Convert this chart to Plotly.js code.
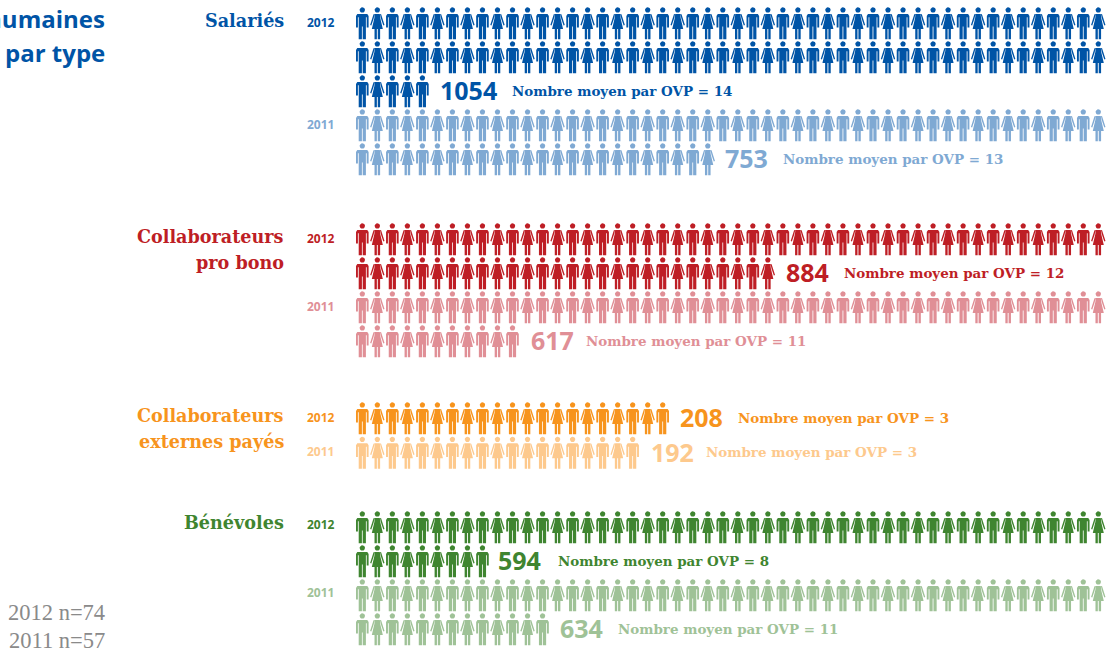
<!DOCTYPE html>
<html lang="fr">
<head>
<meta charset="utf-8">
<title>Ressources humaines par type</title>
<script src="https://cdn.plot.ly/plotly-3.0.1.min.js"></script>
<style>html,body{margin:0;padding:0;background:#fff;overflow:hidden}</style>
</head>
<body>
<div id="chart" style="width:1117px;height:655px"></div>
<script>
// One entry per series, newest year first inside each staff type.
const years = ['2012','2011','2012','2011','2012','2011','2012','2011'];
const totals = [1054, 753, 884, 617, 208, 192, 594, 634];
const averages = [14, 13, 12, 11, 3, 3, 8, 11];
// Icons drawn per series. One icon stands for about 10 people; the 753 and 884 series run short of that.
const iconCounts = [105, 74, 78, 61, 21, 19, 59, 63];
const colors = ['#0054a6','#7fa9d3','#be1e25','#e08f96','#f7941d','#fdc98d','#3f8530','#9fc297'];

const groupLabels = [
  {lines:['Salariés'], ys:[20], color:'#0054a6'},
  {lines:['Collaborateurs','pro bono'], ys:[236,262], color:'#be1e25'},
  {lines:['Collaborateurs','externes payés'], ys:[415,441], color:'#f7941d'},
  {lines:['Bénévoles'], ys:[522], color:'#3f8530'}
];
const sampleSizes = ['2012 n=74','2011 n=57'];

// Page layout, in axis units (the axes span the page one unit per pixel).
const seriesTop = [7.3, 109.3, 223.3, 291.3, 402.3, 436.7, 511.3, 579.3];
const yearY = [22, 124, 238, 306, 417, 451, 524, 592];
const totalX = [439, 724, 785, 530, 679, 650, 497, 559];
const noteX = [512, 783, 844, 586, 738, 706, 558, 618];
const perRow = 50, colStep = 15.02, rowStep = 34, firstX = 362.3;

// Icon outlines, relative to the icon's top centre.
function head() {
  const pts = [];
  for (let a = 0; a <= 16; a++) {
    const t = a / 16 * 2 * Math.PI;
    pts.push([2.7 * Math.cos(t), 2.7 + 2.7 * Math.sin(t)]);
  }
  return pts;
}
const manParts = [
  head(),
  [[-6.3,8.6],[-5.0,6.6],[5.0,6.6],[6.3,8.6],[6.3,20.2],[4.4,20.2],[4.4,10],[3.6,10],[3.6,19.2],
   [-3.6,19.2],[-3.6,10],[-4.4,10],[-4.4,20.2],[-6.3,20.2]],
  [[-3.6,19],[-0.4,19],[-0.4,32],[-3.6,32]],
  [[0.4,19],[3.6,19],[3.6,32],[0.4,32]]
];
const womanParts = [
  head(),
  [[-2.5,6.6],[2.5,6.6],[3.0,11],[5.5,21.6],[-5.5,21.6],[-3.0,11]],
  [[-2.6,6.6],[-3.8,7],[-7.2,17.8],[-6.0,18.3],[-3.7,11.4]],
  [[2.6,6.6],[3.8,7],[7.2,17.8],[6.0,18.3],[3.7,11.4]],
  [[-2.8,21.4],[-0.45,21.4],[-0.45,32],[-2.8,32]],
  [[0.45,21.4],[2.8,21.4],[2.8,32],[0.45,32]]
];

const traces = totals.map((total, s) => {
  const x = [], y = [];
  for (let i = 0; i < iconCounts[s]; i++) {
    const cx = firstX + (i % perRow) * colStep;
    const top = seriesTop[s] + Math.floor(i / perRow) * rowStep;
    for (const part of (i % 2 ? womanParts : manParts)) {
      for (const p of part) { x.push(cx + p[0]); y.push(top + p[1]); }
      x.push(null); y.push(null);
    }
  }
  return {
    type: 'scatter', mode: 'lines', x, y, name: years[s] + ' : ' + total,
    fill: 'toself', fillcolor: colors[s], line: {width: 0, color: colors[s]},
    hoverinfo: 'skip', showlegend: false
  };
});

const sans = '"Open Sans", sans-serif', serif = '"DejaVu Serif", serif', lightSerif = '"Liberation Serif", serif';
const note = (text, x, y, anchor, family, size, color, weight) => ({
  text, x, y, xref: 'x', yref: 'y', xanchor: anchor, yanchor: 'middle', showarrow: false,
  borderpad: 0, font: {family, size, color, weight: weight === undefined ? 700 : weight}
});

const annotations = [
  note('Ressources humaines', 106, 18.5, 'right', sans, 24, '#0054a6'),
  note('par type', 106, 52.5, 'right', sans, 24, '#0054a6')
];
groupLabels.forEach(g => g.lines.forEach((line, i) =>
  annotations.push(note(line, 285, g.ys[i], 'right', serif, 17.6, g.color))));
totals.forEach((total, s) => {
  const lastRow = Math.floor((iconCounts[s] - 1) / perRow);
  const midY = seriesTop[s] + lastRow * rowStep + 16;
  annotations.push(note(years[s], 306, yearY[s], 'left', sans, 12, colors[s]));
  annotations.push(note(String(total), totalX[s], midY - 1, 'left', sans, 25, colors[s]));
  annotations.push(note('Nombre moyen par OVP = ' + averages[s], noteX[s] - 1, midY - 0.5, 'left', serif, 13.45, colors[s]));
});
sampleSizes.forEach((t, i) =>
  annotations.push(note(t, 106, 612 + i * 28, 'right', lightSerif, 22.5, '#8a8a8a', 400)));

const hidden = {visible: false, fixedrange: true, showgrid: false, zeroline: false};
Plotly.newPlot('chart', traces, {
  width: 1117, height: 655,
  margin: {l: 0, r: 0, t: 0, b: 0},
  paper_bgcolor: '#fff', plot_bgcolor: '#fff',
  xaxis: Object.assign({range: [0, 1117]}, hidden),
  yaxis: Object.assign({range: [655, 0]}, hidden),
  annotations, showlegend: false
}, {displayModeBar: false, staticPlot: true});
</script>
</body>
</html>
